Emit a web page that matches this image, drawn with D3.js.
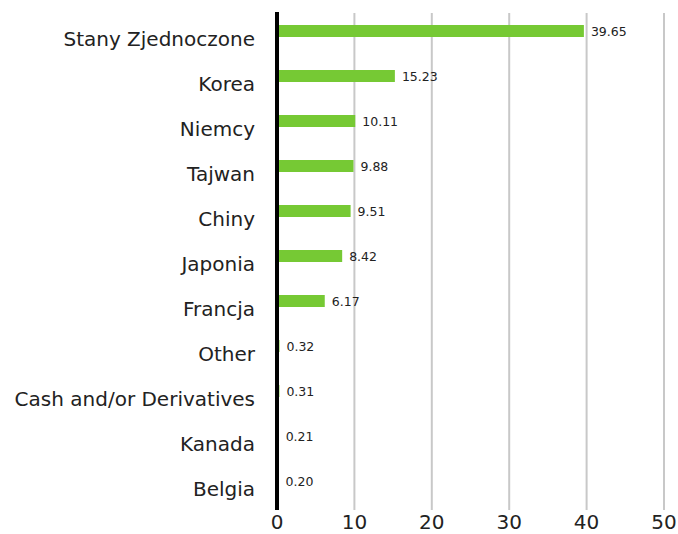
<!DOCTYPE html>
<html><head><meta charset="utf-8">
<script src="https://cdn.jsdelivr.net/npm/d3@7"></script>
<style>body{margin:0;background:#fff}svg{display:block}text{font-family:"DejaVu Sans",sans-serif;fill:#222}</style>
</head><body>
<svg id="c" width="678" height="534"></svg>
<script>
const categories = ["Stany Zjednoczone","Korea","Niemcy","Tajwan","Chiny","Japonia","Francja","Other","Cash and/or Derivatives","Kanada","Belgia"];
const values = [39.65,15.23,10.11,9.88,9.51,8.42,6.17,0.32,0.31,0.21,0.20];
const valueLabels = ["39.65","15.23","10.11","9.88","9.51","8.42","6.17","0.32","0.31","0.21","0.20"];
const ticks = [0,10,20,30,40,50];

const svg = d3.select("#c");
const x = d3.scaleLinear().domain([0,50]).range([277,664]);
const y = d3.scaleBand().domain(categories).range([8.5,503.5]);

// gridlines
svg.append("g").selectAll("line").data(ticks.filter(t=>t>0)).join("line")
  .attr("x1",d=>x(d)).attr("x2",d=>x(d)).attr("y1",13).attr("y2",510)
  .attr("stroke","#c8c8c8").attr("stroke-width",2);

// bars
svg.append("g").selectAll("rect").data(values).join("rect")
  .attr("x",x(0)).attr("y",(d,i)=>y(categories[i])+y.bandwidth()/2-6)
  .attr("width",d=>x(d)-x(0)).attr("height",12).attr("fill","#76c934");

// axis line
svg.append("line").attr("x1",x(0)).attr("x2",x(0)).attr("y1",12).attr("y2",510)
  .attr("stroke","#000").attr("stroke-width",4);

// value labels
svg.append("g").selectAll("text").data(values).join("text")
  .attr("x",d=>x(d)+7).attr("y",(d,i)=>y(categories[i])+y.bandwidth()/2+4.5)
  .attr("font-size",12.5)
  .text((d,i)=>valueLabels[i]);

// category labels
svg.append("g").selectAll("text").data(categories).join("text")
  .attr("x",255).attr("y",d=>y(d)+y.bandwidth()/2+15)
  .attr("text-anchor","end").attr("font-size",20)
  .text(d=>d);

// tick labels
svg.append("g").selectAll("text").data(ticks).join("text")
  .attr("x",d=>x(d)).attr("y",529).attr("text-anchor","middle")
  .attr("font-size",20)
  .text(d=>d);
</script>
</body></html>
